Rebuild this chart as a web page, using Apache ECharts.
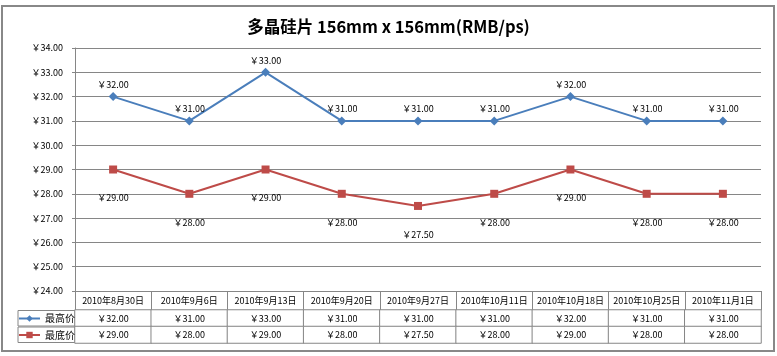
<!DOCTYPE html>
<html><head><meta charset="utf-8">
<script src="https://cdn.jsdelivr.net/npm/echarts@6/dist/echarts.min.js"></script>
<style>
html,body{margin:0;padding:0;background:#fff;}
#c{width:777px;height:356px;position:absolute;left:0;top:0;}
#frame{position:absolute;left:1px;top:5px;width:770px;height:343px;border:2px solid #888;pointer-events:none;}
</style></head>
<body>
<div id="c"></div>
<div id="frame"></div>
<script>
const titleText = '多晶硅片 156mm x 156mm(RMB/ps)';
const categories = ['2010年8月30日','2010年9月6日','2010年9月13日','2010年9月20日','2010年9月27日','2010年10月11日','2010年10月18日','2010年10月25日','2010年11月1日'];
const seriesNames = ['最高价','最底价'];
const highPrices = [32, 31, 33, 31, 31, 31, 32, 31, 31];
const lowPrices = [29, 28, 29, 28, 27.5, 28, 29, 28, 28];
const yMin = 24, yMax = 34, yStep = 1;

const FONT = 'Noto Sans CJK SC';
const GRAY = '#868686';
const BLUE = '#4A7EBB';
const RED = '#BE4B48';
const yen = v => '￥' + Number(v).toFixed(2);

const tableData = [];
highPrices.forEach((v, i) => tableData.push([i, 0, v]));
lowPrices.forEach((v, i) => tableData.push([i, 1, v]));

const chart = echarts.init(document.getElementById('c'), null, {renderer: 'canvas'});
chart.setOption({
  animation: false,
  backgroundColor: '#fff',
  textStyle: {fontFamily: FONT},
  title: {
    text: titleText, left: 'center', top: 13,
    textStyle: {fontFamily: FONT, fontSize: 16.5, fontWeight: 'bold', color: '#000'}
  },
  legend: {
    orient: 'vertical', left: 18, top: 312.5, padding: 0,
    itemWidth: 21, itemHeight: 8, itemGap: 4.5,
    textStyle: {fontFamily: FONT, fontSize: 10, lineHeight: 12, color: '#000'},
    data: seriesNames
  },
  grid: [
    {left: 75, right: 16, top: 48, height: 243},
    {left: 75, right: 16, top: 310, height: 33}
  ],
  xAxis: [
    {
      type: 'category', gridIndex: 0, data: categories, boundaryGap: true,
      axisLine: {lineStyle: {color: GRAY, width: 1}},
      axisTick: {show: true, interval: 0, length: 19, lineStyle: {color: GRAY}},
      axisLabel: {interval: 0, margin: 5, fontSize: 9, color: '#000', fontFamily: FONT},
      splitLine: {show: false}
    },
    {
      type: 'category', gridIndex: 1, data: categories, boundaryGap: true,
      axisLine: {show: false}, axisTick: {show: false}, axisLabel: {show: false},
      splitLine: {show: false}
    }
  ],
  yAxis: [
    {
      type: 'value', gridIndex: 0, min: yMin, max: yMax, interval: yStep,
      axisLine: {show: true, lineStyle: {color: GRAY}},
      axisTick: {show: true, length: 3, lineStyle: {color: GRAY}},
      axisLabel: {formatter: v => yen(v), fontSize: 9, color: '#000', margin: 12, fontFamily: FONT},
      splitLine: {show: true, lineStyle: {color: GRAY, width: 1}}
    },
    {
      type: 'category', gridIndex: 1, data: seriesNames, inverse: true,
      axisLine: {show: false}, axisTick: {show: false},
      axisLabel: {
        margin: 0, formatter: () => '{b|}',
        rich: {b: {width: 57, height: 15.5, borderColor: GRAY, borderWidth: 1}}
      },
      splitLine: {show: false}
    }
  ],
  series: [
    {
      name: seriesNames[0], type: 'line', xAxisIndex: 0, yAxisIndex: 0,
      data: highPrices, symbol: 'diamond', symbolSize: 9,
      lineStyle: {color: BLUE, width: 2}, itemStyle: {color: BLUE},
      label: {show: true, position: 'top', distance: 3, formatter: p => yen(p.value),
        fontSize: 9, color: '#000', fontFamily: FONT}
    },
    {
      name: seriesNames[1], type: 'line', xAxisIndex: 0, yAxisIndex: 0,
      data: lowPrices, symbol: 'rect', symbolSize: 8,
      lineStyle: {color: RED, width: 2}, itemStyle: {color: RED},
      label: {show: true, position: 'bottom', distance: 20, formatter: p => yen(p.value),
        fontSize: 9, color: '#000', fontFamily: FONT}
    },
    {
      type: 'heatmap', xAxisIndex: 1, yAxisIndex: 1, data: tableData,
      itemStyle: {color: '#fff', borderColor: GRAY, borderWidth: 1},
      label: {show: true, formatter: p => yen(p.value[2]), fontSize: 9, color: '#000', fontFamily: FONT},
      emphasis: {disabled: true}
    }
  ]
});
</script>
</body></html>
